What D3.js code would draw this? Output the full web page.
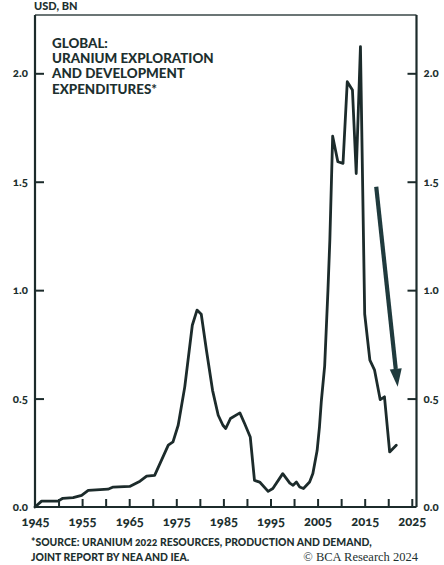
<!DOCTYPE html>
<html>
<head>
<meta charset="utf-8">
<script src="https://cdn.jsdelivr.net/npm/d3@7"></script>
<style>
  html, body { margin: 0; padding: 0; background: #fff; }
  svg { display: block; }
  text { font-family: Lato, "Noto Sans", sans-serif; font-weight: 900; font-feature-settings: "onum" 1; fill: #1d302f; }
</style>
</head>
<body>
<svg id="chart" width="444" height="565"></svg>
<script>
// Global uranium exploration and development expenditures, USD bn
const years = [1945, 1946.4, 1949.9, 1950.9, 1953.1, 1954.9, 1956.3, 1960.5, 1961.6, 1965.1,
  1967.3, 1968.7, 1970.4, 1973.3, 1974.3, 1975.4, 1976.8, 1978.4, 1979.4, 1980.3,
  1981.4, 1982.7, 1983.9, 1984.9, 1985.5, 1986.5, 1988.5, 1989.5, 1990.7, 1991.6,
  1992.7, 1994.5, 1995.5, 1997.6, 1999.1, 1999.8, 2000.5, 2001.2, 2002.0, 2003.3,
  2004.0, 2004.9, 2005.4, 2005.8, 2006.5, 2007.2, 2007.6, 2008.2, 2009.3, 2010.4,
  2011.3, 2012.4, 2013.2, 2014.1, 2015.0, 2016.1, 2017.1, 2018.3, 2019.2, 2020.3, 2021.7];
const spending = [0.0, 0.027, 0.027, 0.04, 0.043, 0.054, 0.077, 0.082, 0.092, 0.095,
  0.119, 0.142, 0.146, 0.285, 0.30, 0.377, 0.554, 0.838, 0.908, 0.889,
  0.723, 0.538, 0.423, 0.377, 0.362, 0.408, 0.434, 0.385, 0.323, 0.123,
  0.115, 0.072, 0.085, 0.154, 0.11, 0.10, 0.115, 0.092, 0.085, 0.115,
  0.154, 0.26, 0.37, 0.49, 0.65, 1.0, 1.23, 1.71, 1.592, 1.585,
  1.961, 1.923, 1.538, 2.123, 0.89, 0.677, 0.631, 0.495, 0.508, 0.254, 0.285];

const yTicks = [0, 0.5, 1.0, 1.5, 2.0];
const xTicks = d3.range(1945, 2026, 5);
const xLabels = [1945, 1955, 1965, 1975, 1985, 1995, 2005, 2015, 2025];

// Trend arrow: [year, value] of tail and head
const arrowFrom = [2017.45, 1.477];
const arrowTo = [2022.0, 0.554];

const titleLines = ["GLOBAL:", "URANIUM EXPLORATION", "AND DEVELOPMENT", "EXPENDITURES*"];
const unitLabel = "USD, BN";
const sourceLines = ["*SOURCE: URANIUM 2022 RESOURCES, PRODUCTION AND DEMAND,", "JOINT REPORT BY NEA AND IEA."];
const credit = "\u00A9 BCA Research 2024";

const svg = d3.select("#chart");
const ink = "#1c2b2b";

const plotLeft = 35, plotRight = 416.5, plotTop = 15, plotBottom = 507;
const x = d3.scaleLinear().domain([1945, 2026]).range([plotLeft, plotRight]);
const y = d3.scaleLinear().domain([0, 2.0]).range([plotBottom, 73.3]);

// frame top edge
svg.append("line")
  .attr("x1", plotLeft).attr("x2", plotRight).attr("y1", plotTop).attr("y2", plotTop)
  .attr("stroke", "#3a4747").attr("stroke-width", 1.3);

// left axis
const yl = svg.append("g").attr("transform", `translate(${plotLeft},0)`)
  .call(d3.axisLeft(y).tickValues(yTicks).tickFormat(d3.format(".1f")).tickSize(-9).tickPadding(7));
// right axis
const yr = svg.append("g").attr("transform", `translate(${plotRight},0)`)
  .call(d3.axisRight(y).tickValues(yTicks).tickFormat(d3.format(".1f")).tickSize(-9).tickPadding(7));
// bottom axis
const xb = svg.append("g").attr("transform", `translate(0,${plotBottom})`)
  .call(d3.axisBottom(x).tickValues(xTicks)
    .tickFormat(d => xLabels.includes(d) ? String(d) : "")
    .tickSize(-8).tickPadding(10));

[yl, yr, xb].forEach(g => {
  g.select(".domain").attr("stroke", ink).attr("stroke-width", 2.2);
  g.selectAll(".tick line").attr("stroke", ink).attr("stroke-width", 2);
  g.selectAll(".tick text").attr("font-family", null).style("font-size", "11.5px").attr("fill", ink);
});
[yl, yr].forEach(g => g.select(".domain").attr("d", `M0,${plotTop}V${plotBottom}`));
xb.select(".domain").attr("d", `M${plotLeft},0H${plotRight}`);
xb.selectAll(".tick text").style("font-size", "13px");
yl.selectAll(".tick").filter(d => d === 0).select("line").remove();
yr.selectAll(".tick").filter(d => d === 0).select("line").remove();
xb.selectAll(".tick").filter(d => d === 1945).select("line").remove();

// expenditure line
const pts = years.map((yv, i) => [yv, spending[i]]);
svg.append("path")
  .datum(pts)
  .attr("fill", "none")
  .attr("stroke", ink)
  .attr("stroke-width", 2.8)
  .attr("stroke-linejoin", "round")
  .attr("stroke-linecap", "round")
  .attr("d", d3.line().x(d => x(d[0])).y(d => y(d[1])));

// downward trend arrow
const ax0 = x(arrowFrom[0]), ay0 = y(arrowFrom[1]);
const ax1 = x(arrowTo[0]), ay1 = y(arrowTo[1]);
const ang = Math.atan2(ay1 - ay0, ax1 - ax0);
const headLen = 18, headHalf = 6;
const bx = ax1 - headLen * Math.cos(ang), by = ay1 - headLen * Math.sin(ang);
svg.append("line")
  .attr("x1", ax0).attr("y1", ay0).attr("x2", bx).attr("y2", by)
  .attr("stroke", "#1f3a3d").attr("stroke-width", 4.2);
svg.append("path")
  .attr("fill", "#1f3a3d")
  .attr("d", `M${ax1},${ay1}L${bx + headHalf * Math.sin(ang)},${by - headHalf * Math.cos(ang)}` +
             `L${bx - headHalf * Math.sin(ang)},${by + headHalf * Math.cos(ang)}Z`);

// unit label above the frame
svg.append("text").attr("x", 34).attr("y", 10).style("font-size", "11px").attr("fill", ink).text(unitLabel);

// title block
svg.append("text")
  .attr("x", 52).attr("y", 48)
  .style("font-size", "13.4px").attr("fill", "#1d3936")
  .selectAll("tspan").data(titleLines).join("tspan")
  .attr("x", 52).attr("dy", (d, i) => i === 0 ? 0 : 15.2)
  .text(d => d);

// source note
svg.append("text")
  .attr("x", 31).attr("y", 546)
  .style("font-size", "10.4px").attr("fill", "#1d2a2a")
  .selectAll("tspan").data(sourceLines).join("tspan")
  .attr("x", 31).attr("dy", (d, i) => i === 0 ? 0 : 14.5)
  .text(d => d);

// credit
svg.append("text")
  .attr("x", 418).attr("y", 561).attr("text-anchor", "end")
  .style("font-family", "'Liberation Serif', 'DejaVu Serif', serif")
  .style("font-weight", "400").style("font-size", "12.5px")
  .attr("fill", "#2a7566")
  .text(credit);
</script>
</body>
</html>
